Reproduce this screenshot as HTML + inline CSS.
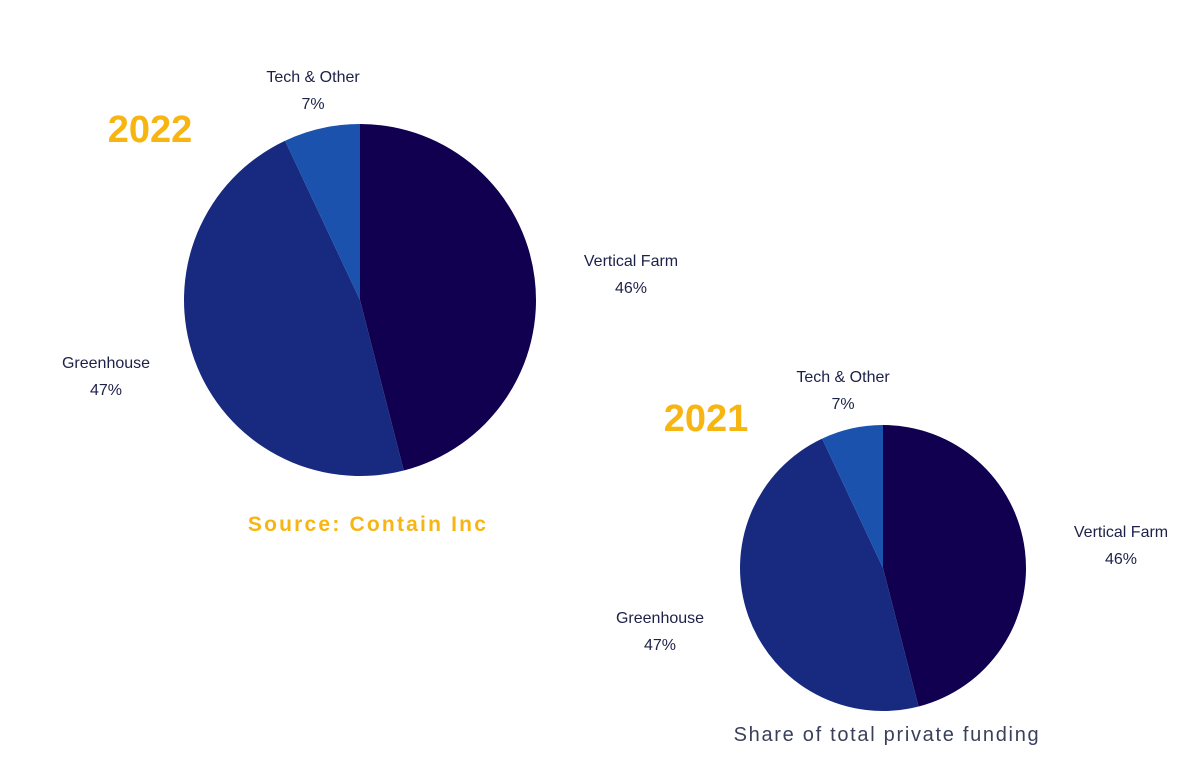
<!DOCTYPE html>
<html><head><meta charset="utf-8">
<style>
body{margin:0;background:#fff;width:1191px;height:765px;overflow:hidden;font-family:"Liberation Sans",sans-serif}
svg{position:absolute;left:0;top:0}
</style></head>
<body>
<svg width="1191" height="765" id="chart">
<text x="150" y="142" text-anchor="middle" font-size="38" font-weight="900" fill="#f7b512">2022</text>
<text x="706" y="431" text-anchor="middle" font-size="38" font-weight="900" fill="#f7b512">2021</text>
<text x="368" y="531" text-anchor="middle" font-size="21" font-weight="bold" letter-spacing="2.2" fill="#f7b512">Source: Contain Inc</text>
<text x="887" y="741" text-anchor="middle" font-size="20" letter-spacing="1.7" fill="#3a3f5a">Share of total private funding</text>
</svg>
<script>
const categories=["Vertical Farm","Greenhouse","Tech & Other"];
const values2022=[46,47,7];
const values2021=[46,47,7];
const colors=["#10004f","#172a7f","#1a52ad"];
const svg=document.getElementById('chart');
const NS="http://www.w3.org/2000/svg";
function pie(cx,cy,r,vals,labelPos,tag){
  const tot=vals.reduce((a,b)=>a+b,0);let acc=0;
  vals.forEach((v,i)=>{
    const a0=acc/tot*2*Math.PI;acc+=v;const a1=acc/tot*2*Math.PI;
    const x0=cx+r*Math.sin(a0),y0=cy-r*Math.cos(a0),x1=cx+r*Math.sin(a1),y1=cy-r*Math.cos(a1);
    const p=document.createElementNS(NS,'path');
    p.setAttribute('d',`M${cx},${cy}L${x0},${y0}A${r},${r} 0 ${a1-a0>Math.PI?1:0} 1 ${x1},${y1}Z`);
    p.setAttribute('fill',colors[i]);
    
    
    svg.appendChild(p);
    const [lx,ly]=labelPos[i];
    [categories[i],v+'%'].forEach((t,k)=>{
      const tx=document.createElementNS(NS,'text');
      tx.setAttribute('x',lx);tx.setAttribute('y',ly+k*27);
      tx.setAttribute('text-anchor','middle');tx.setAttribute('font-size','16');tx.setAttribute('fill','#1c2148');
      tx.textContent=t;
      
      
      svg.appendChild(tx);
    });
  });
}
pie(360,300,176,values2022,[[631,266],[106,368],[313,82]],'2022');
pie(883,568,143,values2021,[[1121,537],[660,623],[843,382]],'2021');
</script>
</body></html>
